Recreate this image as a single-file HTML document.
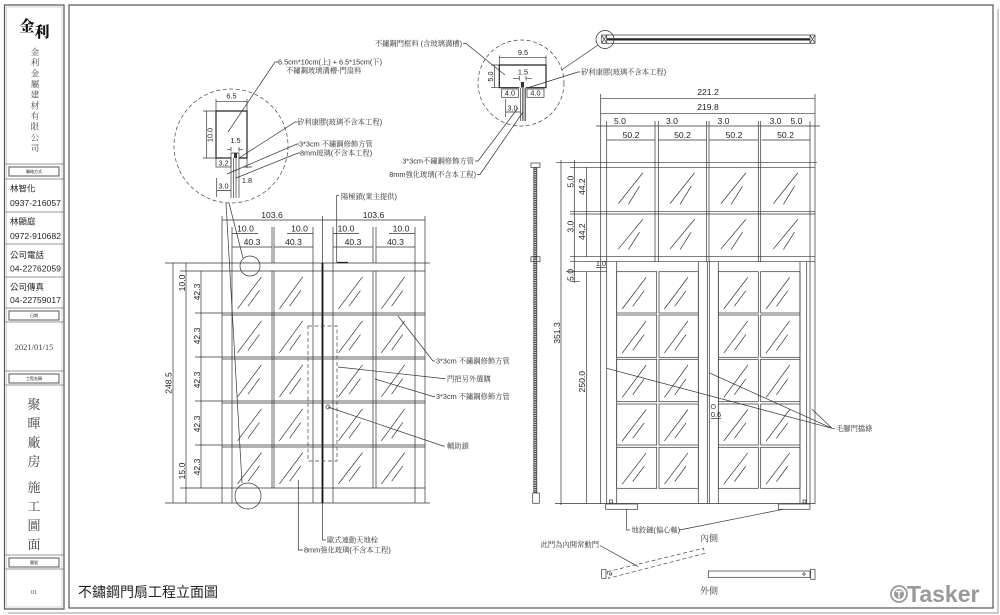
<!DOCTYPE html>
<html><head><meta charset="utf-8"><style>
html,body{margin:0;padding:0;background:#fff;width:1000px;height:615px;overflow:hidden}
svg{display:block}
.l{stroke:#333;stroke-width:.7;fill:none}
.k{stroke:#222;stroke-width:1.2;fill:none}
.d{stroke:#444;stroke-width:.7;fill:none;stroke-dasharray:4 2.5}
.g{stroke:#777;stroke-width:.8;fill:none}
.t{font-family:"Liberation Sans",sans-serif;font-size:8.6px;fill:#222}
.ts{font-family:"Liberation Sans",sans-serif;font-size:7.3px;fill:#222}
.c{font-family:"Liberation Sans","Noto Serif CJK SC",serif;font-size:7.3px;fill:#333}
.s{font-family:"Liberation Sans","Noto Sans CJK TC",sans-serif;fill:#222}
.sf{font-family:"Liberation Serif","Noto Serif CJK SC",serif;fill:#444}
.m{text-anchor:middle}
.e{text-anchor:end}
</style></head><body>
<svg width="1000" height="615" viewBox="0 0 1000 615" xmlns="http://www.w3.org/2000/svg">
<defs>
<symbol id="gl" viewBox="0 0 40 40" preserveAspectRatio="none"><path d="M5.5 36L29.5 5.5M16 33.5L27.5 18.5" stroke="#333" stroke-width=".7" fill="none" vector-effect="non-scaling-stroke"/></symbol>
<symbol id="gt" viewBox="0 0 48 44" preserveAspectRatio="none"><path d="M11.6 36L36 5.4M21.6 36.7L32.6 18.7" stroke="#333" stroke-width=".7" fill="none" vector-effect="non-scaling-stroke"/></symbol>
</defs>

<!-- page frames -->
<path d="M998 9V613H8" stroke="#999" stroke-width="1" fill="none"/>
<rect x="69" y="5" width="924" height="603" stroke="#555" stroke-width="1.2" fill="none"/>
<rect x="4.5" y="5" width="59.5" height="604" stroke="#555" stroke-width="1.2" fill="none"/>
<rect x="6.5" y="7" width="55.5" height="600" stroke="#aaa" stroke-width=".5" fill="none"/>

<!-- sidebar -->
<text x="27" y="31" class="m" font-family="Noto Serif CJK SC,serif" font-size="15" font-weight="900" fill="#111">金</text>
<text x="42" y="37" class="m" font-family="Noto Serif CJK SC,serif" font-size="15" font-weight="900" fill="#111">利</text>
<g class="sf m" font-size="8.5" fill="#555">
<text x="35" y="55">金</text><text x="35" y="65.7">利</text><text x="35" y="76.3">金</text><text x="35" y="87">屬</text><text x="35" y="97.7">建</text><text x="35" y="108.3">材</text><text x="35" y="119">有</text><text x="35" y="129.7">限</text><text x="35" y="140.3">公</text><text x="35" y="151">司</text>
</g>
<path class="g" d="M4.5 164H64M4.5 179H64M4.5 212H64M4.5 244H64M4.5 277H64M4.5 308H64M4.5 322H64M4.5 371H64M4.5 385H64M4.5 555H64M4.5 569H64"/>
<g stroke="#555" stroke-width="1" fill="none">
<rect x="9" y="167" width="50" height="9"/><rect x="9" y="311" width="50" height="9"/><rect x="9" y="374" width="50" height="9"/><rect x="9" y="558" width="50" height="9"/>
</g>
<g class="s m" font-size="4" fill="#555">
<text x="34" y="173">聯絡方式</text><text x="34" y="317">日期</text><text x="34" y="380">工程名稱</text><text x="34" y="564">圖號</text>
</g>
<g class="s" font-size="8.5" fill="#222">
<text x="10" y="191.5">林智化</text>
<text x="10" y="206" textLength="51" lengthAdjust="spacingAndGlyphs">0937-216057</text>
<text x="10" y="224.5">林顯庭</text>
<text x="10" y="239" textLength="51" lengthAdjust="spacingAndGlyphs">0972-910682</text>
<text x="10" y="258">公司電話</text>
<text x="10" y="271.5" textLength="51" lengthAdjust="spacingAndGlyphs">04-22762059</text>
<text x="10" y="290">公司傳真</text>
<text x="10" y="303" textLength="51" lengthAdjust="spacingAndGlyphs">04-22759017</text>
</g>
<text x="34" y="350" class="sf m" font-size="8.5" fill="#333">2021/01/15</text>
<g class="sf m" font-size="13" fill="#444">
<text x="34" y="409">聚</text><text x="34" y="428">暉</text><text x="34" y="447">廠</text><text x="34" y="466">房</text>
<text x="34" y="492">施</text><text x="34" y="511">工</text><text x="34" y="530">圖</text><text x="34" y="549">面</text>
</g>
<text x="34" y="594" class="sf m" font-size="6" fill="#444">01</text>

<!-- title & logo -->
<text x="78" y="597" class="s" font-size="14" fill="#222">不鏽鋼門扇工程立面圖</text>
<circle cx="899" cy="594" r="8" stroke="#999" stroke-width="1.8" fill="none"/>
<circle cx="899" cy="594" r="5" fill="#999"/>
<path d="M896 591.5H902M899 591.5V598" stroke="#fff" stroke-width="1.4"/>
<text x="907" y="602" font-family="Liberation Sans,sans-serif" font-weight="bold" font-size="23" fill="#999">Tasker</text>

<!-- ===== LEFT DETAIL CIRCLE ===== -->
<circle cx="231" cy="146" r="57" class="d"/>
<path class="k" d="M231 158H216V111H247V158H239"/>
<path class="l" d="M231 158V153H239V158"/>
<rect x="234" y="153" width="3" height="5" fill="#333"/>
<path class="l" d="M231 158V198M233.5 158V198M236 158V198M239 158V198"/>
<path class="l" d="M216 99V111M247 99V111M216 101.7H247"/>
<text x="231.5" y="98.5" class="ts m">6.5</text>
<path class="l" d="M203 111H216M203 158H216M206.7 111V158"/>
<text transform="translate(212.5,135) rotate(-90)" class="ts m">10.0</text>
<text x="235.5" y="143" class="ts m">1.5</text>
<path class="l" d="M227 149.3H231M239 149.3H243M231 147V151.5M239 147V151.5"/>
<rect x="216" y="158" width="15" height="9" class="l"/>
<text x="223.5" y="165.5" class="ts m">3.2</text>
<path class="l" d="M247 158V168M243 167H252"/>
<text x="247" y="183" class="ts m">1.8</text>
<path class="l" d="M216.7 178V197M216.7 190.5H231"/>
<text x="223.5" y="188.5" class="ts m">3.0</text>
<path class="l" d="M228 132L275 62H278M239 158L295 122H297M227 174L297 144H299M236 178L298 153H300"/>
<text x="278" y="64.5" class="c">6.5cm*10cm(上) + 6.5*15cm(下)</text>
<text x="286" y="73" class="c">不鏽鋼玻璃溝槽-門扇料</text>
<text x="297" y="124.5" class="c">矽利康膠(玻璃不含本工程)</text>
<text x="299" y="146.5" class="c">3*3cm 不鏽鋼修飾方管</text>
<text x="300" y="155.5" class="c">8mm玻璃(不含本工程)</text>

<!-- ===== MIDDLE DETAIL CIRCLE ===== -->
<circle cx="521" cy="83" r="43" class="d"/>
<path class="k" d="M519.3 87.7H499.3V65H546V87.7H526"/>
<rect x="521" y="82" width="3" height="5.5" fill="#333"/>
<path class="l" d="M520.7 87.7V121M522.7 87.7V121M524 87.7V121M525.5 87.7V121"/>
<path class="l" d="M499.3 55.5V65M546 55.5V65M499.3 57.7H546"/>
<text x="523" y="55" class="ts m">9.5</text>
<path class="l" d="M491 65H499.3M491 87.7H499.3M494.3 65V87.7"/>
<text transform="translate(493,76.5) rotate(-90)" class="ts m">5.0</text>
<text x="523" y="74.5" class="ts m">1.5</text>
<path class="l" d="M513 78.3H519.3M526 78.3H532M519.3 76V80.5M526 76V80.5"/>
<rect x="501.7" y="89" width="16.6" height="8.3" class="l"/>
<rect x="527" y="89" width="17" height="8.3" class="l"/>
<text x="510" y="95.7" class="ts m">4.0</text>
<text x="535.5" y="95.7" class="ts m">4.0</text>
<path class="l" d="M505.7 99V117M505.7 112H520.7"/>
<text x="512.5" y="110.5" class="ts m">3.0</text>
<path class="l" d="M463 43.5H466L505 75M527 88L578 72H580M475 161H478L518 108M477 174.5H480L523 112"/>
<text x="462" y="46" class="c e">不鏽鋼門框料 (含玻璃溝槽)</text>
<text x="581" y="74.5" class="c">矽利康膠(玻璃不含本工程)</text>
<text x="474" y="163.5" class="c e">3*3cm不鏽鋼修飾方管</text>
<text x="476" y="177" class="c e">8mm強化玻璃(不含本工程)</text>

<!-- top plan bar -->
<rect x="601.7" y="35" width="213.3" height="8.3" class="l"/>
<path d="M606.7 39.4H810" stroke="#222" stroke-width="2.2"/>
<path class="l" d="M606.7 35V43.3M810 35V43.3M601.7 35L606.7 43.3M606.7 35L601.7 43.3M810 35L815 43.3M815 35L810 43.3"/>
<circle cx="605" cy="39.5" r="9" class="l"/>
<path class="l" d="M598 45L561.5 70"/>

<!-- ===== LEFT ELEVATION ===== -->
<path class="l" d="M165 263H430M165 503H430"/>
<path class="l" d="M222 216V503M232 227V503M313 227V503M333 227V503M415 227V503M425 216V503M272 227V263M274 227V263M373 227V263M376 227V263M272 271V488M274 271V488M373 271V488M376 271V488M322.5 216V263"/>
<path d="M322.5 263V503" stroke="#111" stroke-width="1.8"/>
<path class="l" d="M180 271H425M180 488H425M195 313H425M222 315H425M195 357H425M222 359H425M195 401H425M222 403H425M195 445H425M222 447H425"/>
<g>
<use href="#gl" x="232" y="271" width="40" height="42"/><use href="#gl" x="274" y="271" width="39" height="42"/><use href="#gl" x="333" y="271" width="40" height="42"/><use href="#gl" x="376" y="271" width="39" height="42"/>
<use href="#gl" x="232" y="315" width="40" height="42"/><use href="#gl" x="274" y="315" width="39" height="42"/><use href="#gl" x="333" y="315" width="40" height="42"/><use href="#gl" x="376" y="315" width="39" height="42"/>
<use href="#gl" x="232" y="359" width="40" height="42"/><use href="#gl" x="274" y="359" width="39" height="42"/><use href="#gl" x="333" y="359" width="40" height="42"/><use href="#gl" x="376" y="359" width="39" height="42"/>
<use href="#gl" x="232" y="403" width="40" height="42"/><use href="#gl" x="274" y="403" width="39" height="42"/><use href="#gl" x="333" y="403" width="40" height="42"/><use href="#gl" x="376" y="403" width="39" height="42"/>
<use href="#gl" x="232" y="447" width="40" height="41"/><use href="#gl" x="274" y="447" width="39" height="41"/><use href="#gl" x="333" y="447" width="40" height="41"/><use href="#gl" x="376" y="447" width="39" height="41"/>
</g>
<!-- dims left elevation -->
<path class="l" d="M222 220H425"/>
<text x="272" y="218" class="t m">103.6</text><text x="373.5" y="218" class="t m">103.6</text>
<path class="l" d="M232 233.5H258M287 233.5H313M333 233.5H359M389 233.5H415"/>
<text x="245.5" y="231.5" class="t m">10.0</text><text x="299.5" y="231.5" class="t m">10.0</text><text x="346" y="231.5" class="t m">10.0</text><text x="401" y="231.5" class="t m">10.0</text>
<path class="l" d="M232 247H272M274 247H313M333 247H373M376 247H415"/>
<text x="252" y="245" class="t m">40.3</text><text x="293.5" y="245" class="t m">40.3</text><text x="353" y="245" class="t m">40.3</text><text x="395.5" y="245" class="t m">40.3</text>
<path class="l" d="M173 263V503M186 263V503M201 271V488"/>
<text transform="translate(171.5,383) rotate(-90)" class="t m">248.5</text>
<text transform="translate(185,283) rotate(-90)" class="t m">10.0</text>
<text transform="translate(185,471) rotate(-90)" class="t m">15.0</text>
<text transform="translate(200,292) rotate(-90)" class="t m">42.3</text>
<text transform="translate(200,336) rotate(-90)" class="t m">42.3</text>
<text transform="translate(200,380) rotate(-90)" class="t m">42.3</text>
<text transform="translate(200,424) rotate(-90)" class="t m">42.3</text>
<text transform="translate(200,467) rotate(-90)" class="t m">42.3</text>
<!-- circles and leaders -->
<circle cx="250" cy="266" r="10" class="l"/>
<circle cx="248" cy="496" r="13" class="l"/>
<path class="l" d="M226 203L242 483M229 203L243 258"/>
<path class="l" d="M339 195.5H336.7V262"/>
<path d="M336.7 262.5H348" stroke="#222" stroke-width="1.3"/>
<text x="341" y="199" class="c">陽極鎖(業主提供)</text>
<rect x="308" y="326" width="29" height="135" class="d"/>
<circle cx="328" cy="407" r="2" class="l"/>
<path class="l" d="M398 316L433 361H435M338 367L443 378.5H445M375 379L433 396.5H435M328 407L443 446H445"/>
<text x="436" y="363.5" class="c">3*3cm 不鏽鋼修飾方管</text>
<text x="447" y="381.5" class="c">門把另外選購</text>
<text x="436" y="399" class="c">3*3cm 不鏽鋼修飾方管</text>
<text x="447" y="448.5" class="c">輔助鎖</text>
<path class="l" d="M322.5 503V540H326M298.3 480V550H303"/>
<text x="327" y="542.5" class="c">歐式連動天地栓</text>
<text x="304" y="552.5" class="c">8mm強化玻璃(不含本工程)</text>

<!-- ===== RIGHT ELEVATION ===== -->
<path class="l" d="M600.7 98.3H815M600.7 113.3H815"/>
<text x="708" y="95" class="t m">221.2</text>
<text x="708" y="110" class="t m">219.8</text>
<path class="l" d="M600.7 94V504M815 94V504M606.7 121V504M810 121V504M655 121V261.7M658.3 121V261.7M706.7 121V261.7M709 121V261.7M758.3 121V261.7M760.7 121V261.7"/>
<path class="l" d="M596 126H820M606.7 140H655M658.3 140H706.7M709 140H758.3M761.7 140H810"/>
<text x="620" y="124" class="t m">5.0</text><text x="672" y="124" class="t m">3.0</text><text x="723.5" y="124" class="t m">3.0</text><text x="775.5" y="124" class="t m">3.0</text><text x="796.5" y="124" class="t m">5.0</text>
<text x="631" y="138" class="t m">50.2</text><text x="682.5" y="138" class="t m">50.2</text><text x="734" y="138" class="t m">50.2</text><text x="785.5" y="138" class="t m">50.2</text>
<path class="l" d="M556 162.7H817M570 167.3H815M570 211.7H815M570 214H815M570 256.7H815M570 261.7H815M566 271.7H606.7M555 503.5H815"/>
<g>
<use href="#gt" x="606.7" y="167.3" width="48.3" height="44.4"/><use href="#gt" x="658.3" y="167.3" width="48.4" height="44.4"/><use href="#gt" x="709" y="167.3" width="49.3" height="44.4"/><use href="#gt" x="761.7" y="167.3" width="48.3" height="44.4"/>
<use href="#gt" x="606.7" y="214" width="48.3" height="42.7"/><use href="#gt" x="658.3" y="214" width="48.4" height="42.7"/><use href="#gt" x="709" y="214" width="49.3" height="42.7"/><use href="#gt" x="761.7" y="214" width="48.3" height="42.7"/>
</g>
<path class="l" d="M616.7 261.7V503.5M698.3 261.7V503.5M707.3 261.7V503.5M709.3 261.7V503.5M718.3 261.7V503.5M800 261.7V503.5M806.7 261.7V503.5"/>
<g class="l">
<rect x="616.7" y="271.7" width="40" height="41.3"/><rect x="659" y="271.7" width="39.3" height="41.3"/><rect x="718.3" y="271.7" width="40" height="41.3"/><rect x="760.7" y="271.7" width="39.3" height="41.3"/>
<rect x="616.7" y="315" width="40" height="42.3"/><rect x="659" y="315" width="39.3" height="42.3"/><rect x="718.3" y="315" width="40" height="42.3"/><rect x="760.7" y="315" width="39.3" height="42.3"/>
<rect x="616.7" y="359.3" width="40" height="42.4"/><rect x="659" y="359.3" width="39.3" height="42.4"/><rect x="718.3" y="359.3" width="40" height="42.4"/><rect x="760.7" y="359.3" width="39.3" height="42.4"/>
<rect x="616.7" y="404" width="40" height="41"/><rect x="659" y="404" width="39.3" height="41"/><rect x="718.3" y="404" width="40" height="41"/><rect x="760.7" y="404" width="39.3" height="41"/>
<rect x="616.7" y="447.3" width="40" height="41"/><rect x="659" y="447.3" width="39.3" height="41"/><rect x="718.3" y="447.3" width="40" height="41"/><rect x="760.7" y="447.3" width="39.3" height="41"/>
</g>
<g>
<use href="#gl" x="616.7" y="271.7" width="40" height="41.3"/><use href="#gl" x="659" y="271.7" width="39.3" height="41.3"/><use href="#gl" x="718.3" y="271.7" width="40" height="41.3"/><use href="#gl" x="760.7" y="271.7" width="39.3" height="41.3"/>
<use href="#gl" x="616.7" y="315" width="40" height="42.3"/><use href="#gl" x="659" y="315" width="39.3" height="42.3"/><use href="#gl" x="718.3" y="315" width="40" height="42.3"/><use href="#gl" x="760.7" y="315" width="39.3" height="42.3"/>
<use href="#gl" x="616.7" y="359.3" width="40" height="42.4"/><use href="#gl" x="659" y="359.3" width="39.3" height="42.4"/><use href="#gl" x="718.3" y="359.3" width="40" height="42.4"/><use href="#gl" x="760.7" y="359.3" width="39.3" height="42.4"/>
<use href="#gl" x="616.7" y="404" width="40" height="41"/><use href="#gl" x="659" y="404" width="39.3" height="41"/><use href="#gl" x="718.3" y="404" width="40" height="41"/><use href="#gl" x="760.7" y="404" width="39.3" height="41"/>
<use href="#gl" x="616.7" y="447.3" width="40" height="41"/><use href="#gl" x="659" y="447.3" width="39.3" height="41"/><use href="#gl" x="718.3" y="447.3" width="40" height="41"/><use href="#gl" x="760.7" y="447.3" width="39.3" height="41"/>
</g>
<circle cx="713.3" cy="406.7" r="2.2" class="l"/>
<text x="716" y="417" class="ts m" font-size="4.5">0.6</text>
<path class="l" d="M711 418.5H721"/>
<!-- left dims right elevation -->
<path class="l" d="M561 160V505M574.3 160V283M586.7 167.3V256.7M586.7 271.7V503.5M570 281.7H580"/>
<text transform="translate(560,333) rotate(-90)" class="t m">351.3</text>
<text transform="translate(573.3,181.7) rotate(-90)" class="t m">5.0</text>
<text transform="translate(573.3,226.7) rotate(-90)" class="t m">3.0</text>
<text transform="translate(573.3,275) rotate(-90)" class="t m">5.0</text>
<text transform="translate(585,186.7) rotate(-90)" class="t m">44.2</text>
<text transform="translate(585,231.7) rotate(-90)" class="t m">44.2</text>
<text transform="translate(585,381.7) rotate(-90)" class="t m">250.0</text>
<text x="601" y="266" class="ts m" font-size="4.5">1.0</text>
<path class="l" d="M596 267.5H606"/>
<!-- side profile bar -->
<rect x="531" y="163" width="9" height="4.5" class="l"/>
<path d="M535.3 167.5V493" stroke="#333" stroke-width="2.4" stroke-dasharray="1 .8"/>
<path class="l" d="M533.8 167.5V493M536.8 167.5V493"/>
<rect x="531" y="256.7" width="9" height="5" class="l" fill="#fff"/>
<rect x="532.7" y="493" width="6.6" height="10.3" class="l" fill="#fff"/>
<!-- pivots -->
<rect x="605.7" y="504" width="32" height="5.3" class="l"/>
<rect x="778.3" y="504" width="31.7" height="5.3" class="l"/>
<rect x="609.5" y="500" width="3" height="3" class="l"/>
<rect x="803" y="500" width="3" height="3" class="l"/>
<path class="l" d="M606.7 368.3L832 428.3M709 372.7L832 428.3M811.7 409L832 428.3M832 428.3H835"/>
<text x="836" y="430.8" class="c">毛腳門擋條</text>
<path class="l" d="M626.7 509.3V530H630M783 509.3L679.5 530"/>
<text x="631.5" y="532.5" class="c">地鉸鏈(偏心軸)</text>
<!-- plan sketch -->
<text x="700" y="541.5" class="sf" font-size="9" fill="#333">內側</text>
<text x="700" y="594" class="sf" font-size="9" fill="#333">外側</text>
<path class="l" d="M600 545.5L638.3 566.7"/>
<text x="599" y="547" class="c e" font-size="6.8">此門為內開常動門</text>
<rect x="601.7" y="569.3" width="4.3" height="9" class="l"/>
<path class="d" stroke-dasharray="3 2" d="M607.3 571.7L703.3 548.3L705 553.3L608.3 578.3Z"/>
<circle cx="610.7" cy="574" r="1.2" class="l"/>
<rect x="708.3" y="571" width="101.7" height="6.3" class="l"/>
<rect x="810.7" y="569.3" width="4.3" height="10" class="l"/>
<circle cx="804" cy="574" r="1.2" class="l"/>
</svg>
</body></html>
